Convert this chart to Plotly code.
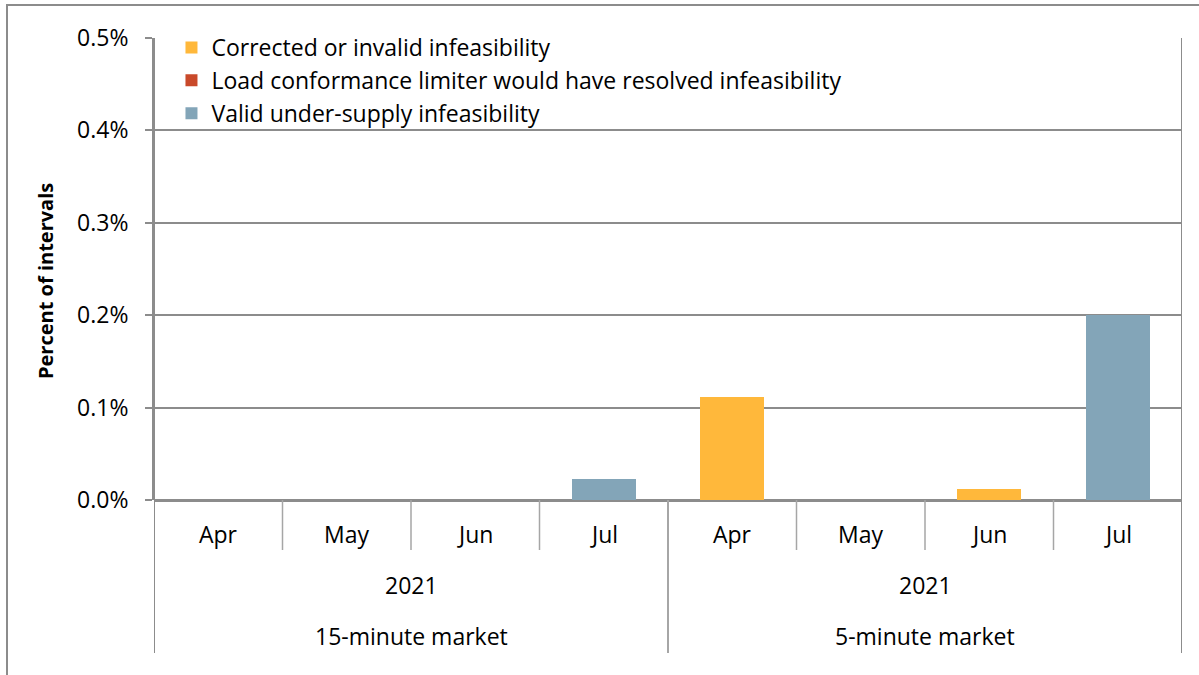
import plotly.graph_objects as go

# ---- data ----
markets = ["15-minute market", "5-minute market"]
years = ["2021", "2021"]
months = ["Apr", "May", "Jun", "Jul", "Apr", "May", "Jun", "Jul"]
corrected = [0, 0, 0, 0, 0.112, 0, 0.012, 0]
load_conformance = [0, 0, 0, 0, 0, 0, 0, 0]
valid_undersupply = [0, 0, 0, 0.0226, 0, 0, 0, 0.2005]
series_names = [
    "Corrected or invalid infeasibility",
    "Load conformance limiter would have resolved infeasibility",
    "Valid under-supply infeasibility",
]
colors = ["#FFB83B", "#C9492A", "#83A5B8"]
y_ticks = [0, 0.1, 0.2, 0.3, 0.4, 0.5]

FONT = "Open Sans"
GRAY = "#8C8C8C"
FS = 23

xidx = list(range(len(months)))

fig = go.Figure()
for i, (name, vals, c) in enumerate(zip(series_names, [corrected, load_conformance, valid_undersupply], colors)):
    fig.add_trace(go.Bar(x=xidx, y=vals, name=name, marker=dict(color=c, line=dict(width=0)),
                         legendgroup=f"g{i}", hoverinfo="skip"))

# plot area in pixels: x 154..1182, y 38..500
L, R, T, B = 154, 1182, 38, 500
W, H = 1199, 675
ph = B - T

def py(pix):
    return (B - pix) / ph

def px(pix):
    return (pix - L) / (R - L)

shapes = []
n = len(months)
for k in range(1, n):
    if k % 4 == 0:
        continue
    shapes.append(dict(type="line", xref="x", yref="paper", x0=k - 0.5, x1=k - 0.5,
                       y0=0, y1=py(550), line=dict(color="#A6A6A6", width=1.5)))
for xv in [-0.5, 3.5, 7.5]:
    shapes.append(dict(type="line", xref="x", yref="paper", x0=xv, x1=xv,
                       y0=py(653), y1=1 if xv != 3.5 else 0,
                       line=dict(color="#A6A6A6" if xv == 3.5 else GRAY, width=2)))
shapes.append(dict(type="rect", xref="paper", yref="paper", x0=px(7), x1=px(1210),
                   y0=py(690), y1=py(5), line=dict(color=GRAY, width=2), layer="below"))

annotations = []
for i, m in enumerate(months):
    annotations.append(dict(x=i, y=py(534), xref="x", yref="paper", text=m, showarrow=False,
                            xanchor="center", yanchor="middle",
                            font=dict(family=FONT, size=FS, color="#000")))
for g in range(2):
    annotations.append(dict(x=g * 4 + 1.5, y=py(585), xref="x", yref="paper", text=years[g],
                            xanchor="center", yanchor="middle",
                            showarrow=False, font=dict(family=FONT, size=FS, color="#000")))
    annotations.append(dict(x=g * 4 + 1.5, y=py(636), xref="x", yref="paper", text=markets[g],
                            xanchor="center", yanchor="middle",
                            showarrow=False, font=dict(family=FONT, size=FS, color="#000")))
annotations.append(dict(x=px(45), y=py(281), xref="paper", yref="paper", text="<b>Percent of intervals</b>",
                        xanchor="center", yanchor="middle",
                        textangle=-90, showarrow=False, font=dict(family=FONT, size=20, color="#000")))

fig.update_layout(
    width=W, height=H,
    margin=dict(l=L, r=W - R, t=T, b=H - B, pad=0),
    paper_bgcolor="white", plot_bgcolor="white",
    barmode="stack", bargap=0.5,
    font=dict(family=FONT, size=FS, color="#000"),
    showlegend=True,
    legend=dict(x=0.017, y=1.026, xanchor="left", yanchor="top", traceorder="grouped",
                tracegroupgap=0, itemwidth=30, bgcolor="rgba(0,0,0,0)",
                font=dict(family=FONT, size=FS, color="#000")),
    xaxis=dict(range=[-0.5, 7.5], showticklabels=False, showgrid=False, zeroline=False,
               showline=False, ticks="", fixedrange=True),
    yaxis=dict(range=[0, 0.5], tickvals=y_ticks, ticktext=[f"{v:.1f}%" for v in y_ticks],
               showgrid=True, gridcolor=GRAY, gridwidth=2, zeroline=True, zerolinecolor=GRAY,
               zerolinewidth=3, showline=True, linecolor=GRAY, linewidth=2, ticks="outside",
               ticklen=7, tickwidth=2, tickcolor=GRAY, ticklabelstandoff=12, fixedrange=True,
               tickfont=dict(family=FONT, size=FS, color="#000")),
    shapes=shapes, annotations=annotations,
)

fig.write_html("out.html", post_script="document.body.style.margin='0';",
               config={"displayModeBar": False})
